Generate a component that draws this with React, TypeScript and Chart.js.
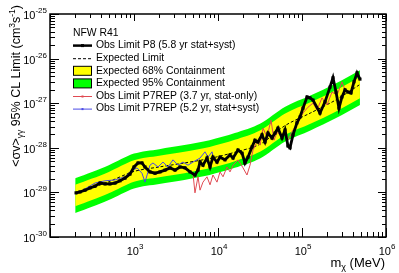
import React, { useEffect, useRef } from "react";
import { Chart, registerables } from "chart.js";

Chart.register(...registerables);

// All values are log10: mass in MeV, limit in cm^3 s^-1
const bandLogMass = [2.3, 2.5, 2.7, 3.0, 3.3, 3.6, 3.9, 4.2, 4.5, 4.8, 5.1, 5.4, 5.69];
const expectedLog = [-29.03, -28.9, -28.76, -28.53, -28.43, -28.34, -28.24, -28.1, -27.92, -27.5, -27.22, -26.93, -26.58];
const yellowHiLog = [-28.83, -28.69, -28.54, -28.28, -28.18, -28.09, -27.98, -27.82, -27.61, -27.23, -26.98, -26.71, -26.41];
const yellowLoLog = [-29.31, -29.17, -29.02, -28.76, -28.66, -28.57, -28.46, -28.3, -28.09, -27.71, -27.46, -27.19, -26.89];
const greenHiLog = [-28.68, -28.54, -28.39, -28.13, -28.03, -27.94, -27.83, -27.67, -27.46, -27.08, -26.83, -26.56, -26.26];
const greenLoLog = [-29.46, -29.32, -29.17, -28.91, -28.81, -28.72, -28.61, -28.45, -28.24, -27.86, -27.61, -27.34, -27.04];

const p8LogMass = [
  2.31, 2.357, 2.417, 2.476, 2.536, 2.595, 2.655, 2.714, 2.774, 2.833, 2.893, 2.952, 3.0, 3.048, 3.095,
  3.131, 3.19, 3.25, 3.31, 3.369, 3.429, 3.488, 3.548, 3.607, 3.667, 3.726, 3.762, 3.786, 3.821, 3.869,
  3.905, 3.94, 3.988, 4.024, 4.083, 4.143, 4.179, 4.238, 4.286, 4.321, 4.357, 4.405, 4.44, 4.476, 4.524,
  4.56, 4.595, 4.643, 4.679, 4.714, 4.762, 4.798, 4.833, 4.857, 4.893, 4.94, 4.976, 5.012, 5.06, 5.095,
  5.131, 5.214, 5.274, 5.333, 5.369, 5.405, 5.44, 5.476, 5.512, 5.548, 5.583, 5.619, 5.655, 5.69,
];
const p8LogLimit = [
  -29.01, -28.99, -28.95, -28.9, -28.86, -28.79, -28.81, -28.81, -28.79, -28.74, -28.68, -28.59, -28.43, -28.34, -28.34,
  -28.43, -28.54, -28.57, -28.54, -28.5, -28.45, -28.5, -28.43, -28.45, -28.54, -28.61, -28.5, -28.32, -28.39, -28.23,
  -28.43, -28.21, -28.32, -28.21, -28.27, -28.16, -28.23, -28.05, -28.12, -28.34, -28.21, -27.98, -27.83, -27.87, -27.71,
  -27.87, -27.67, -27.78, -27.67, -27.56, -27.78, -27.6, -27.96, -28.0, -27.71, -27.44, -27.31, -27.11, -26.86, -26.88,
  -26.93, -27.22, -26.97, -26.64, -26.43, -26.75, -27.11, -26.86, -26.7, -26.75, -26.77, -26.52, -26.32, -26.46,
];

const p7StatLogMass = [
  3.702, 3.726, 3.762, 3.786, 3.821, 3.869, 3.905, 3.94, 3.988, 4.024, 4.06, 4.107, 4.143, 4.179, 4.238,
  4.298, 4.345, 4.381, 4.417, 4.464, 4.5, 4.536, 4.583, 4.631, 4.667, 4.702, 4.762, 4.798, 4.833, 4.893,
  4.952, 5.012, 5.071, 5.131, 5.179, 5.238, 5.298, 5.357, 5.417, 5.476, 5.512,
];
const p7StatLogLimit = [
  -28.57, -29.01, -28.65, -28.95, -28.77, -28.65, -28.83, -28.61, -28.77, -28.54, -28.65, -28.43, -28.54, -28.39, -28.27,
  -28.45, -28.61, -28.39, -28.05, -27.87, -27.94, -27.56, -27.76, -27.38, -27.83, -27.65, -27.76, -27.56, -27.83, -27.6,
  -27.44, -27.22, -27.09, -27.0, -27.15, -26.88, -27.04, -26.75, -26.82, -26.52, -26.7,
];

const p7SystLogMass = [
  2.31, 2.417, 2.536, 2.655, 2.774, 2.893, 2.952, 3.036, 3.095, 3.131, 3.19, 3.226, 3.286, 3.345, 3.405,
  3.464, 3.524, 3.583, 3.643, 3.702, 3.786, 3.845, 3.881, 3.929, 3.952,
];
const p7SystLogLimit = [
  -29.04, -28.92, -28.79, -28.74, -28.72, -28.65, -28.54, -28.45, -28.57, -28.77, -28.39, -28.34, -28.43, -28.32, -28.43,
  -28.27, -28.39, -28.32, -28.39, -28.32, -28.23, -28.09, -28.21, -28.09, -28.27,
];

const xTickExponents = [3, 4, 5, 6];
const yTickExponents = [-30, -29, -28, -27, -26, -25];

const labels = {
  p8: "Obs Limit P8 (5.8 yr stat+syst)",
  exp: "Expected Limit",
  y68: "Expected 68% Containment",
  g95: "Expected 95% Containment",
  p7a: "Obs Limit P7REP (3.7 yr, stat-only)",
  p7b: "Obs Limit P7REP (5.2 yr, stat+syst)",
};

const FONT = '"Liberation Sans", Arial, Helvetica, sans-serif';
const GREEN = "#00ff00";
const YELLOW = "#ffff00";
const RED = "#e04a52";
const BLUE = "#4a4ae6";

const pts = (lx: number[], ly: number[]) => lx.map((v, i) => ({ x: Math.pow(10, v), y: Math.pow(10, ly[i]) }));

type Part = { t: string; size: number; dy: number };

function measureParts(ctx: CanvasRenderingContext2D, parts: Part[]) {
  let w = 0;
  for (const p of parts) {
    ctx.font = `${p.size}px ${FONT}`;
    w += ctx.measureText(p.t).width;
  }
  return w;
}

function drawParts(ctx: CanvasRenderingContext2D, parts: Part[], x: number, y: number) {
  let cx = x;
  ctx.textAlign = "left";
  ctx.textBaseline = "alphabetic";
  for (const p of parts) {
    ctx.font = `${p.size}px ${FONT}`;
    ctx.fillText(p.t, cx, y + p.dy);
    cx += ctx.measureText(p.t).width;
  }
}

function drawPow(ctx: CanvasRenderingContext2D, exp: string, x: number, baseline: number, align: "center" | "right") {
  const parts: Part[] = [
    { t: "10", size: 11, dy: 0 },
    { t: exp, size: 8, dy: -6 },
  ];
  const w = measureParts(ctx, parts);
  const start = align === "center" ? x - w / 2 + 1 : x - w;
  drawParts(ctx, parts, start, baseline);
}

const rootFrame = {
  id: "rootFrame",
  afterDraw(chart: any) {
    const { ctx, chartArea: a } = chart;
    const xs = chart.scales.x;
    const ys = chart.scales.y;
    ctx.save();
    ctx.fillStyle = "#000";
    ctx.strokeStyle = "#000";

    // ticks
    ctx.lineWidth = 1;
    ctx.beginPath();
    for (let d = 2; d <= 6; d++) {
      for (let k = 1; k <= 9; k++) {
        if (d === 6 && k > 1) break;
        const v = k * Math.pow(10, d);
        const px = Math.round(xs.getPixelForValue(v)) + 0.5;
        if (px < a.left - 1 || px > a.right + 1) continue;
        const major = k === 1;
        ctx.moveTo(px, a.bottom);
        ctx.lineTo(px, a.bottom - (major ? 9 : 5));
        ctx.moveTo(px, a.top);
        ctx.lineTo(px, a.top + (major ? 7 : 4));
      }
    }
    for (let d = -30; d <= -25; d++) {
      for (let k = 1; k <= 9; k++) {
        if (d === -25 && k > 1) break;
        const v = k * Math.pow(10, d);
        const py = Math.round(ys.getPixelForValue(v)) + 0.5;
        if (py < a.top - 1 || py > a.bottom + 1) continue;
        const major = k === 1;
        ctx.moveTo(a.left, py);
        ctx.lineTo(a.left + (major ? 9 : 5), py);
        ctx.moveTo(a.right, py);
        ctx.lineTo(a.right - (major ? 8 : 4), py);
      }
    }
    ctx.stroke();

    // frame
    ctx.lineWidth = 1.5;
    ctx.strokeRect(a.left, a.top, a.right - a.left, a.bottom - a.top);

    // tick labels
    for (const e of xTickExponents) {
      const px = xs.getPixelForValue(Math.pow(10, e));
      drawPow(ctx, String(e), px, a.bottom + 18, "center");
    }
    for (const e of yTickExponents) {
      const py = ys.getPixelForValue(Math.pow(10, e));
      drawPow(ctx, String(e), a.left - 3, py + 5, "right");
    }

    // x title
    const xt: Part[] = [
      { t: "m", size: 13, dy: 0 },
      { t: "χ", size: 9, dy: 3 },
      { t: " (MeV)", size: 13, dy: 0 },
    ];
    const xw = measureParts(ctx, xt);
    drawParts(ctx, xt, a.right - 1 - xw, 267);

    // y title (rotated)
    const yt: Part[] = [
      { t: "<σv>", size: 12.5, dy: 0 },
      { t: "γγ", size: 8.5, dy: 3 },
      { t: " 95% CL Limit (cm", size: 12.5, dy: 0 },
      { t: "3", size: 8.5, dy: -5 },
      { t: "s", size: 12.5, dy: 0 },
      { t: "-1", size: 8.5, dy: -5 },
      { t: ")", size: 12.5, dy: 0 },
    ];
    const yw = measureParts(ctx, yt);
    ctx.save();
    ctx.translate(20, 5 + yw);
    ctx.rotate(-Math.PI / 2);
    drawParts(ctx, yt, 0, 0);
    ctx.restore();

    // legend
    const x0 = 73;
    const x1 = 92;
    const tx = 96;
    const lf = `10.4px ${FONT}`;
    ctx.font = lf;
    ctx.textBaseline = "middle";
    ctx.textAlign = "left";
    ctx.fillStyle = "#000";
    ctx.fillText("NFW R41", x0, 33);
    const rows = [45.6, 58.2, 70.8, 83.4, 96, 108.6];
    // P8
    ctx.lineWidth = 2.5;
    ctx.beginPath();
    ctx.moveTo(x0, rows[0]);
    ctx.lineTo(x1, rows[0]);
    ctx.stroke();
    ctx.fillRect((x0 + x1) / 2 - 1.5, rows[0] - 1.5, 3, 3);
    // expected
    ctx.lineWidth = 1;
    ctx.setLineDash([3, 2]);
    ctx.beginPath();
    ctx.moveTo(x0, rows[1] + 0.5);
    ctx.lineTo(x1, rows[1] + 0.5);
    ctx.stroke();
    ctx.setLineDash([]);
    // boxes
    ctx.lineWidth = 1;
    ctx.fillStyle = YELLOW;
    ctx.fillRect(x0, rows[2] - 4.5, x1 - x0, 9);
    ctx.strokeRect(x0 + 0.5, rows[2] - 4.5, x1 - x0 - 1, 9);
    ctx.fillStyle = GREEN;
    ctx.fillRect(x0, rows[3] - 4.5, x1 - x0, 9);
    ctx.strokeRect(x0 + 0.5, rows[3] - 4.5, x1 - x0 - 1, 9);
    // red / blue
    [[RED, rows[4]], [BLUE, rows[5]]].forEach(([c, ry]: any) => {
      ctx.strokeStyle = c;
      ctx.fillStyle = c;
      ctx.lineWidth = 1;
      ctx.beginPath();
      ctx.moveTo(x0, ry + 0.5);
      ctx.lineTo(x1, ry + 0.5);
      ctx.stroke();
      ctx.fillRect((x0 + x1) / 2 - 1, ry - 0.5, 2, 2);
    });
    ctx.fillStyle = "#000";
    ctx.font = lf;
    ctx.textBaseline = "middle";
    const texts = [labels.p8, labels.exp, labels.y68, labels.g95, labels.p7a, labels.p7b];
    texts.forEach((t, i) => ctx.fillText(t, tx, rows[i]));

    ctx.restore();
  },
};

export default function App() {
  const ref = useRef<HTMLCanvasElement | null>(null);

  useEffect(() => {
    if (!ref.current) return;
    const chart = new Chart(ref.current, {
      type: "line",
      data: {
        datasets: [
          {
            label: labels.p8,
            data: pts(p8LogMass, p8LogLimit),
            borderColor: "#000",
            backgroundColor: "#000",
            borderWidth: 2.8,
            pointStyle: "rect",
            pointRadius: 2.2,
            pointBorderWidth: 0,
            pointBackgroundColor: "#000",
            fill: false,
            tension: 0,
          },
          {
            label: labels.p7b,
            data: pts(p7SystLogMass, p7SystLogLimit),
            borderColor: BLUE,
            borderWidth: 1,
            pointRadius: 0,
            fill: false,
            tension: 0,
          },
          {
            label: labels.p7a,
            data: pts(p7StatLogMass, p7StatLogLimit),
            borderColor: RED,
            borderWidth: 1,
            pointRadius: 0,
            fill: false,
            tension: 0,
          },
          {
            label: labels.exp,
            data: pts(bandLogMass, expectedLog),
            borderColor: "#000",
            borderWidth: 1,
            borderDash: [3, 2],
            pointRadius: 0,
            fill: false,
            tension: 0.3,
          },
          {
            label: labels.y68,
            data: pts(bandLogMass, yellowHiLog),
            borderWidth: 0,
            borderColor: "rgba(0,0,0,0)",
            backgroundColor: YELLOW,
            pointRadius: 0,
            fill: "+1",
            tension: 0.3,
          },
          {
            label: "y68lo",
            data: pts(bandLogMass, yellowLoLog),
            borderWidth: 0,
            borderColor: "rgba(0,0,0,0)",
            pointRadius: 0,
            fill: false,
            tension: 0.3,
          },
          {
            label: labels.g95,
            data: pts(bandLogMass, greenHiLog),
            borderWidth: 0,
            borderColor: "rgba(0,0,0,0)",
            backgroundColor: GREEN,
            pointRadius: 0,
            fill: "+1",
            tension: 0.3,
          },
          {
            label: "g95lo",
            data: pts(bandLogMass, greenLoLog),
            borderWidth: 0,
            borderColor: "rgba(0,0,0,0)",
            pointRadius: 0,
            fill: false,
            tension: 0.3,
          },
        ],
      },
      options: {
        responsive: false,
        animation: false,
        layout: { padding: { top: 14, right: 13, left: 0, bottom: 0 } },
        plugins: {
          legend: { display: false },
          tooltip: { enabled: false },
        },
        scales: {
          x: {
            type: "logarithmic",
            min: 100,
            max: 1e6,
            grid: { display: false },
            border: { display: false },
            ticks: { display: false },
            afterFit: (s: any) => {
              s.height = 36;
            },
          },
          y: {
            type: "logarithmic",
            min: 1e-30,
            max: 1e-25,
            grid: { display: false },
            border: { display: false },
            ticks: { display: false },
            afterFit: (s: any) => {
              s.width = 50;
            },
          },
        },
      } as any,
      plugins: [rootFrame],
    });
    return () => chart.destroy();
  }, []);

  return (
    <div style={{ position: "absolute", left: 0, top: 0, width: 399, height: 273, background: "#fff" }}>
      <canvas ref={ref} width={399} height={273} style={{ display: "block" }} />
    </div>
  );
}
